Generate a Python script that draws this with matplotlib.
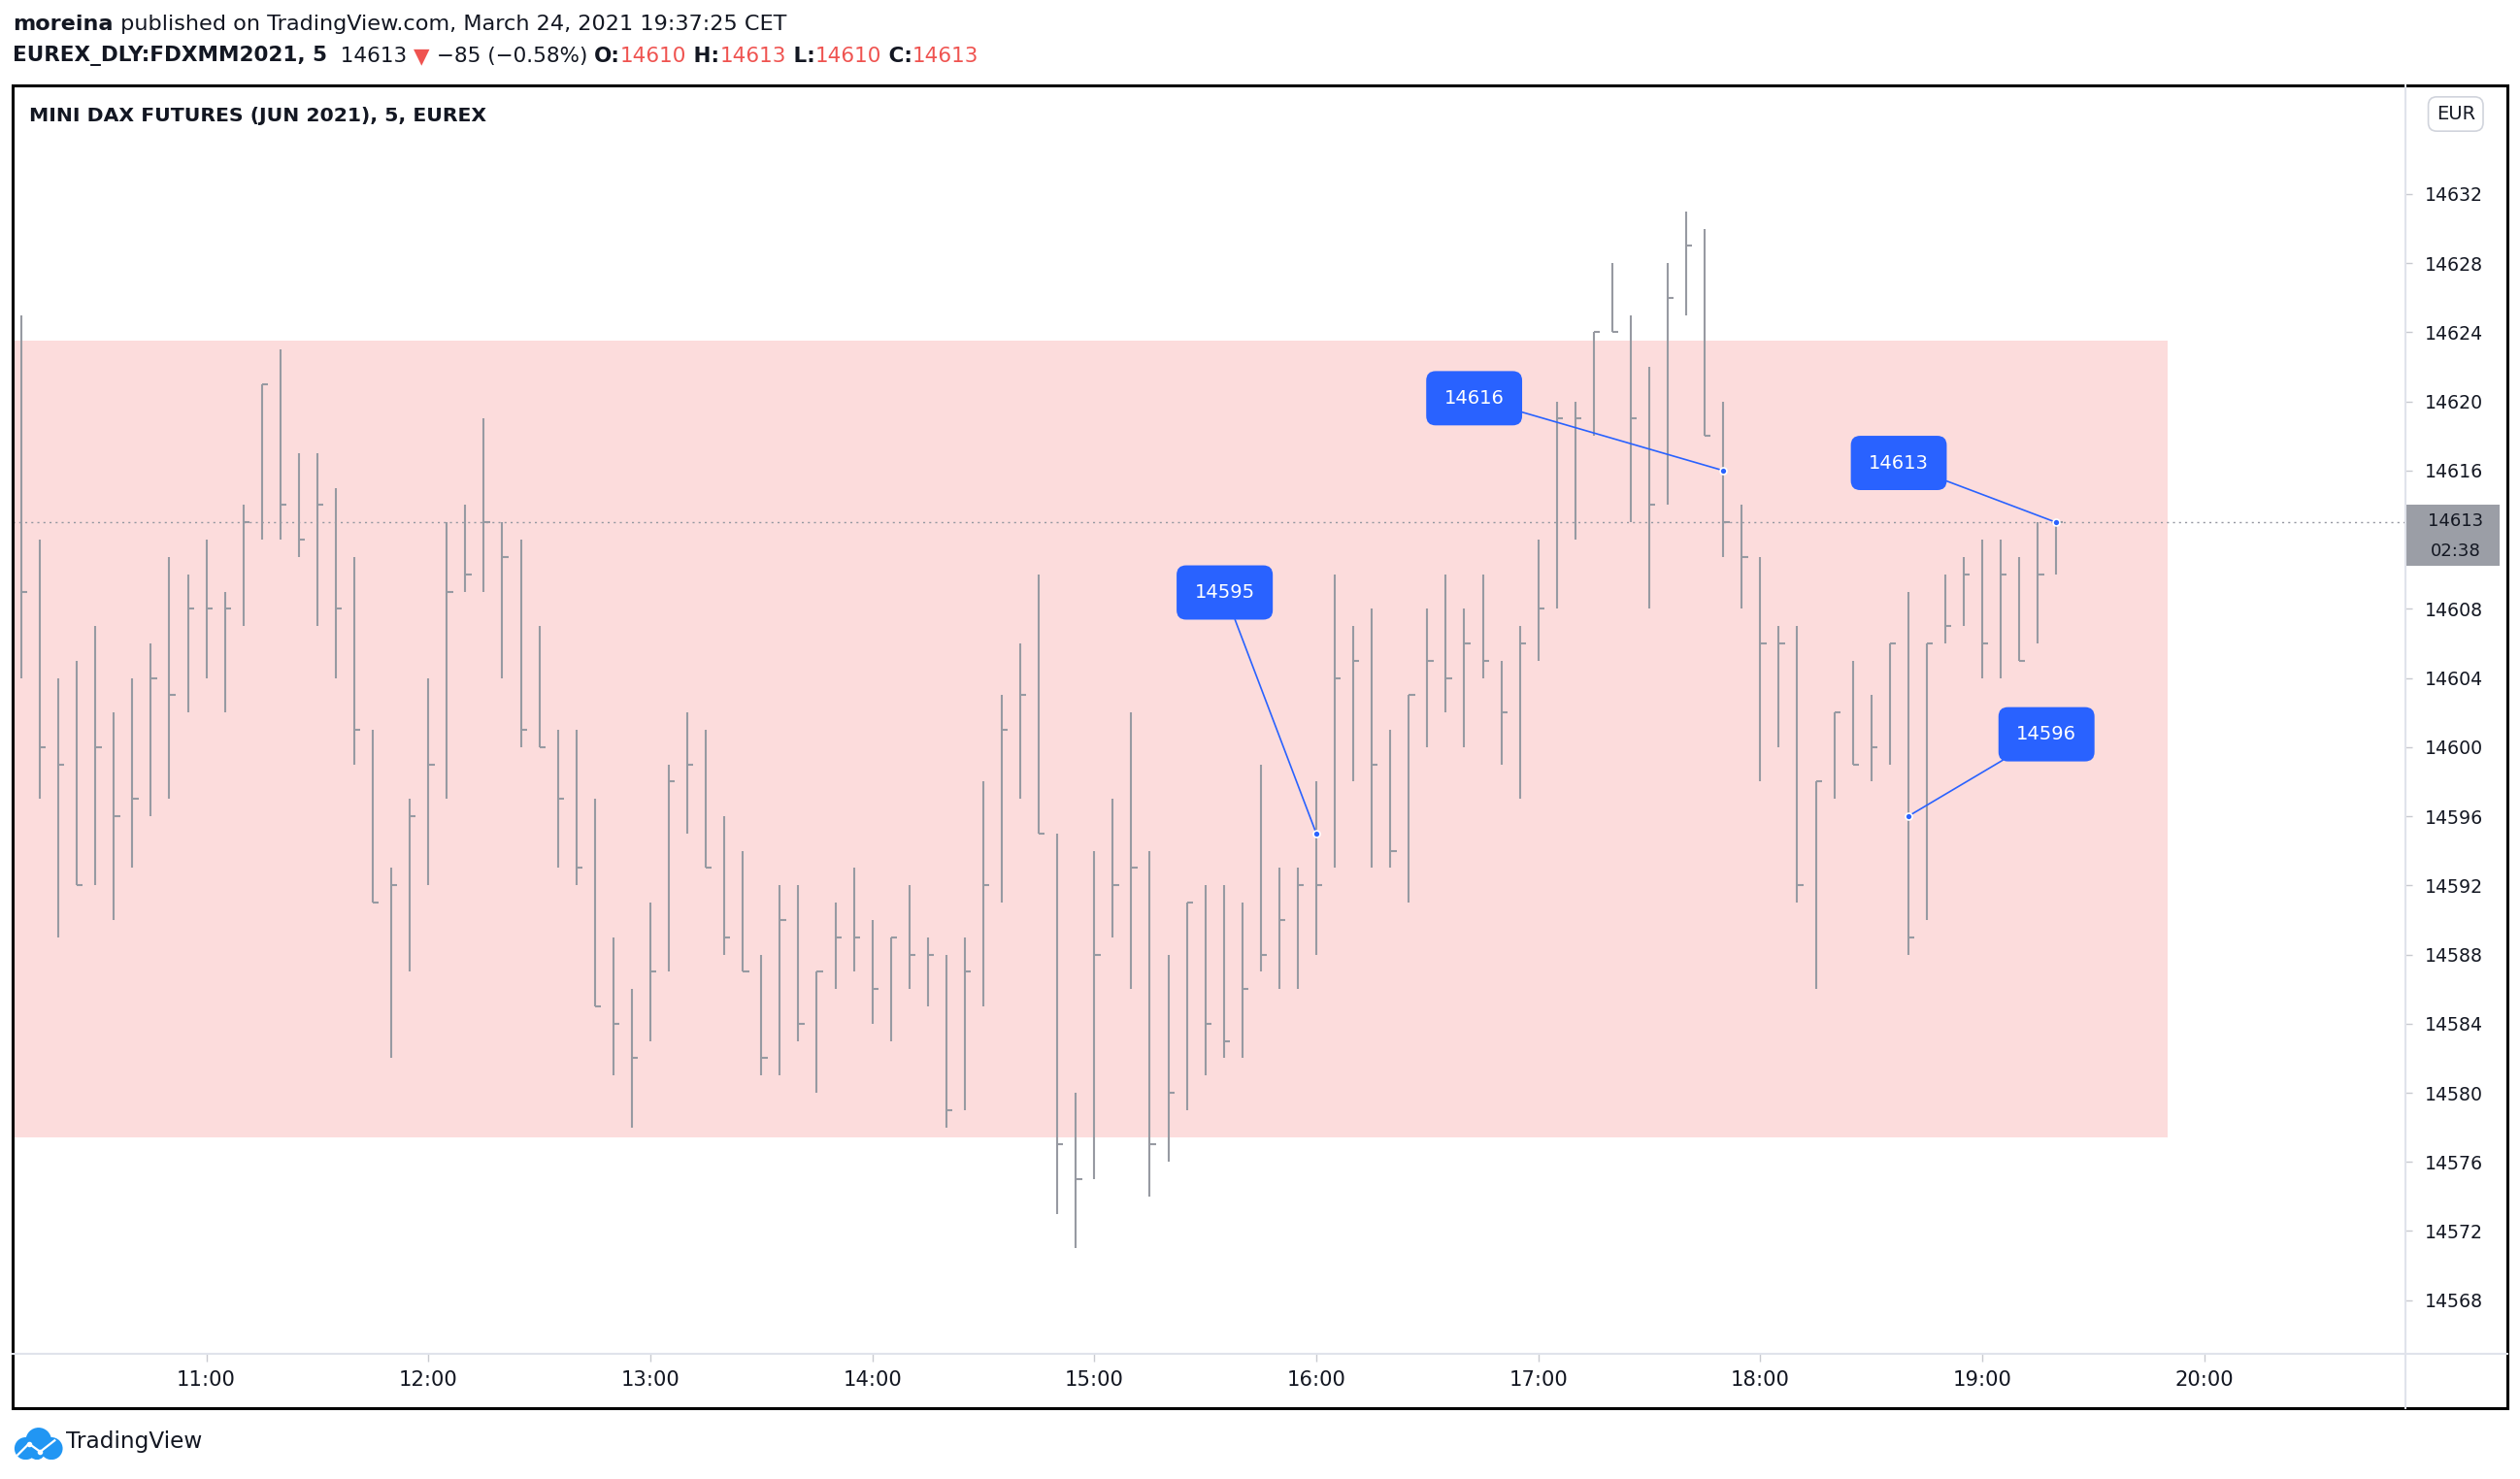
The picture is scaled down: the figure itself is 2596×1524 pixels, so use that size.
import matplotlib
matplotlib.use('Agg')
import matplotlib.pyplot as plt
import matplotlib.dates as mdates
import matplotlib.transforms as mtransforms
from matplotlib.patches import Rectangle, Circle
from matplotlib.lines import Line2D
import pandas as pd

# MINI DAX futures, 5 minute bars, 24 March 2021 (high / low / close)
highs = [14625, 14612, 14604, 14605, 14607, 14602, 14604, 14606, 14611, 14610,
         14612, 14609, 14614, 14621, 14623, 14617, 14617, 14615, 14611, 14601,
         14593, 14597, 14604, 14613, 14614, 14619, 14613, 14612, 14607, 14601,
         14601, 14597, 14589, 14586, 14591, 14599, 14602, 14601, 14596, 14594,
         14588, 14592, 14592, 14587, 14591, 14593, 14590, 14589, 14592, 14589,
         14588, 14589, 14598, 14603, 14606, 14610, 14595, 14580, 14594, 14597,
         14602, 14594, 14588, 14591, 14592, 14592, 14591, 14599, 14593, 14593,
         14598, 14610, 14607, 14608, 14601, 14603, 14608, 14610, 14608, 14610,
         14605, 14607, 14612, 14620, 14620, 14624, 14628, 14625, 14622, 14628,
         14631, 14630, 14620, 14614, 14611, 14607, 14607, 14598, 14602, 14605,
         14603, 14606, 14609, 14606, 14610, 14611, 14612, 14612, 14611, 14613,
         14613]
lows = [14604, 14597, 14589, 14592, 14592, 14590, 14593, 14596, 14597, 14602,
        14604, 14602, 14607, 14612, 14612, 14611, 14607, 14604, 14599, 14591,
        14582, 14587, 14592, 14597, 14609, 14609, 14604, 14600, 14600, 14593,
        14592, 14585, 14581, 14578, 14583, 14587, 14595, 14593, 14588, 14587,
        14581, 14581, 14583, 14580, 14586, 14587, 14584, 14583, 14586, 14585,
        14578, 14579, 14585, 14591, 14597, 14595, 14573, 14571, 14575, 14589,
        14586, 14574, 14576, 14579, 14581, 14582, 14582, 14587, 14586, 14586,
        14588, 14593, 14598, 14593, 14593, 14591, 14600, 14602, 14600, 14604,
        14599, 14597, 14605, 14608, 14612, 14618, 14624, 14613, 14608, 14614,
        14625, 14618, 14611, 14608, 14598, 14600, 14591, 14586, 14597, 14599,
        14598, 14599, 14588, 14590, 14606, 14607, 14604, 14604, 14605, 14606,
        14610]
closes = [14609, 14600, 14599, 14592, 14600, 14596, 14597, 14604, 14603, 14608,
          14608, 14608, 14613, 14621, 14614, 14612, 14614, 14608, 14601, 14591,
          14592, 14596, 14599, 14609, 14610, 14613, 14611, 14601, 14600, 14597,
          14593, 14585, 14584, 14582, 14587, 14598, 14599, 14593, 14589, 14587,
          14582, 14590, 14584, 14587, 14589, 14589, 14586, 14589, 14588, 14588,
          14579, 14587, 14592, 14601, 14603, 14595, 14577, 14575, 14588, 14592,
          14593, 14577, 14580, 14591, 14584, 14583, 14586, 14588, 14590, 14592,
          14592, 14604, 14605, 14599, 14594, 14603, 14605, 14604, 14606, 14605,
          14602, 14606, 14608, 14619, 14619, 14624, 14624, 14619, 14614, 14626,
          14629, 14618, 14613, 14611, 14606, 14606, 14592, 14598, 14602, 14599,
          14600, 14606, 14589, 14606, 14607, 14610, 14606, 14610, 14605, 14610,
          14613]
start = '2021-03-24 10:10'

last_price = 14613
countdown = '02:38'
price_ticks = list(range(14568, 14633, 4))

# shaded zone
zone_low, zone_high = 14577.4, 14623.5
zone_end = '2021-03-24 19:50'

# price notes
note_times = ['16:00', '17:50', '19:20', '18:40']
note_values = [14595, 14616, 14613, 14596]

DARK = '#131722'
RED = '#ef5350'
BAR = '#979aa2'
BLUE = '#2962ff'
SEP = '#e0e3eb'

plt.rcParams['font.family'] = ['DejaVu Sans']

W, H = 1568.0, 921.0  # layout measured on the reduced picture
PT = (2596 / W) * 72 / 100  # reduced pixel -> points


def fx(px):
    return px / W


def fy(py):
    return 1 - py / H


fig = plt.figure(figsize=(25.96, 15.24), dpi=100)
ax = fig.add_axes([fx(8), fy(843), fx(1497) - fx(8), fy(53) - fy(843)])

times = pd.date_range(start, periods=len(highs), freq='5min')
x = mdates.date2num(times.values)
bar = 5 / 1440.0

ax.add_patch(Rectangle((x[0] - 5 * bar, zone_low),
                       mdates.date2num(pd.Timestamp(zone_end)) - x[0] + 5 * bar,
                       zone_high - zone_low, fc='#fcdcdc', ec='none', zorder=0))

ax.vlines(x, lows, highs, color=BAR, lw=1.5, zorder=2)
ax.hlines(closes, x, x + 0.33 * bar, color=BAR, lw=1.5, zorder=2)

ax.axhline(last_price, color='#9598a1', lw=1.0, ls=(0, (1.5, 3)), zorder=1)

ax.set_xlim(x[0] - 0.46 * bar, x[0] + 128.9 * bar)
ax.set_ylim(14564.9, 14638.3)

ax.xaxis.set_major_locator(mdates.HourLocator())
ax.xaxis.set_major_formatter(mdates.DateFormatter('%H:%M'))
ax.set_yticks(price_ticks)
# the label under the last price box is hidden
ax.set_yticklabels(['' if abs(p - last_price) < 2 else str(p) for p in price_ticks])
ax.yaxis.tick_right()
ax.tick_params(axis='y', direction='out', length=5, width=1, color='#c8cad0',
               labelsize=13.6, labelcolor=DARK, pad=9)
ax.tick_params(axis='x', direction='out', length=6, width=1, color='#c8cad0',
               labelsize=15.2, labelcolor=DARK, pad=6)
for s in ax.spines.values():
    s.set_visible(False)

# notes: box offsets from the marked point, in reduced pixels
day = times[0].strftime('%Y-%m-%d ')
offsets = [(-57, 150), (-155, 45), (-98, 37), (86, 51)]
for t, v, (dx, dy) in zip(note_times, note_values, offsets):
    px = mdates.date2num(pd.Timestamp(day + t))
    ax.annotate(str(v), xy=(px, v), xytext=(dx * PT, dy * PT),
                textcoords='offset points', ha='center', va='center',
                fontsize=14, color='white',
                bbox=dict(boxstyle='round,pad=0.95,rounding_size=0.5', fc=BLUE, ec='none'),
                arrowprops=dict(arrowstyle='-', color=BLUE, lw=1.2, shrinkA=0, shrinkB=0),
                zorder=6)
    ax.plot([px], [v], 'o', ms=5, mfc=BLUE, mec='white', mew=1.2, zorder=7)

# last price label on the price scale
blend = mtransforms.blended_transform_factory(ax.transAxes, ax.transData)
ax.add_patch(Rectangle((1.0, 14610.5), 0.039, 3.5, transform=blend, fc='#9b9ea6',
                       ec='none', clip_on=False, zorder=10))
ax.text(1.0208, last_price + 0.1, str(last_price), transform=blend, ha='center', va='center',
        fontsize=13, color=DARK, zorder=11, clip_on=False)
ax.text(1.0208, 14611.35, countdown, transform=blend, ha='center', va='center',
        fontsize=13, color=DARK, zorder=11, clip_on=False)

# frame and separators
fig.add_artist(Rectangle((fx(8), fy(877)), fx(1560) - fx(8), fy(53) - fy(877),
                         transform=fig.transFigure, fill=False, ec='black', lw=2.2))
fig.add_artist(Line2D([fx(1497), fx(1497)], [fy(877), fy(53)], transform=fig.transFigure,
                      color=SEP, lw=1.5))
fig.add_artist(Line2D([fx(8), fx(1560)], [fy(843), fy(843)], transform=fig.transFigure,
                      color=SEP, lw=1.5))

fig.text(fx(1528), fy(71), 'EUR', ha='center', va='center', fontsize=14, color=DARK,
         bbox=dict(boxstyle='round,pad=0.42,rounding_size=0.45', fc='white', ec='#d1d4dc', lw=1.2))

fig.text(fx(18), fy(72), 'MINI DAX FUTURES (JUN 2021), 5, EUREX', ha='left', va='center',
         fontsize=14.7, fontweight='bold', color=DARK)

# header lines
renderer = fig.canvas.get_renderer()


def runs(xpos, ypos, parts, size):
    for s, weight, color in parts:
        t = fig.text(xpos, ypos, s, ha='left', va='center', fontsize=size,
                     fontweight=weight, color=color)
        xpos += t.get_window_extent(renderer=renderer).width / fig.bbox.width


runs(fx(8), fy(15), [('moreina', 'bold', DARK),
                     (' published on TradingView.com, March 24, 2021 19:37:25 CET', 'normal', DARK)], 16.1)
runs(fx(8), fy(35), [('EUREX_DLY:FDXMM2021, 5', 'bold', DARK),
                     ('  14613 ', 'normal', DARK), ('\u25bc', 'normal', RED),
                     (' \u221285 (\u22120.58%) ', 'normal', DARK),
                     ('O:', 'bold', DARK), ('14610', 'normal', RED),
                     (' H:', 'bold', DARK), ('14613', 'normal', RED),
                     (' L:', 'bold', DARK), ('14610', 'normal', RED),
                     (' C:', 'bold', DARK), ('14613', 'normal', RED)], 15.5)

# footer logo
lg = fig.add_axes([fx(8), fy(909), fx(39) - fx(8), fy(889) - fy(909)])
lg.set_xlim(0, 31)
lg.set_ylim(0, 20)
lg.axis('off')
for cx, cy, r in [(8, 7, 7), (16, 12, 8), (24, 7, 7), (15, 5, 5)]:
    lg.add_patch(Circle((cx, cy), r, fc='#2196f3', ec='none'))
lg.plot([3, 10, 17, 26], [3, 10, 5, 12], color='white', lw=1.6)
lg.plot([10, 17], [10, 5], 'o', ms=3, color='white')
fig.text(fx(41), fy(898), 'TradingView', ha='left', va='center', fontsize=16.7, color=DARK)

fig.savefig('out.png', dpi=100)
